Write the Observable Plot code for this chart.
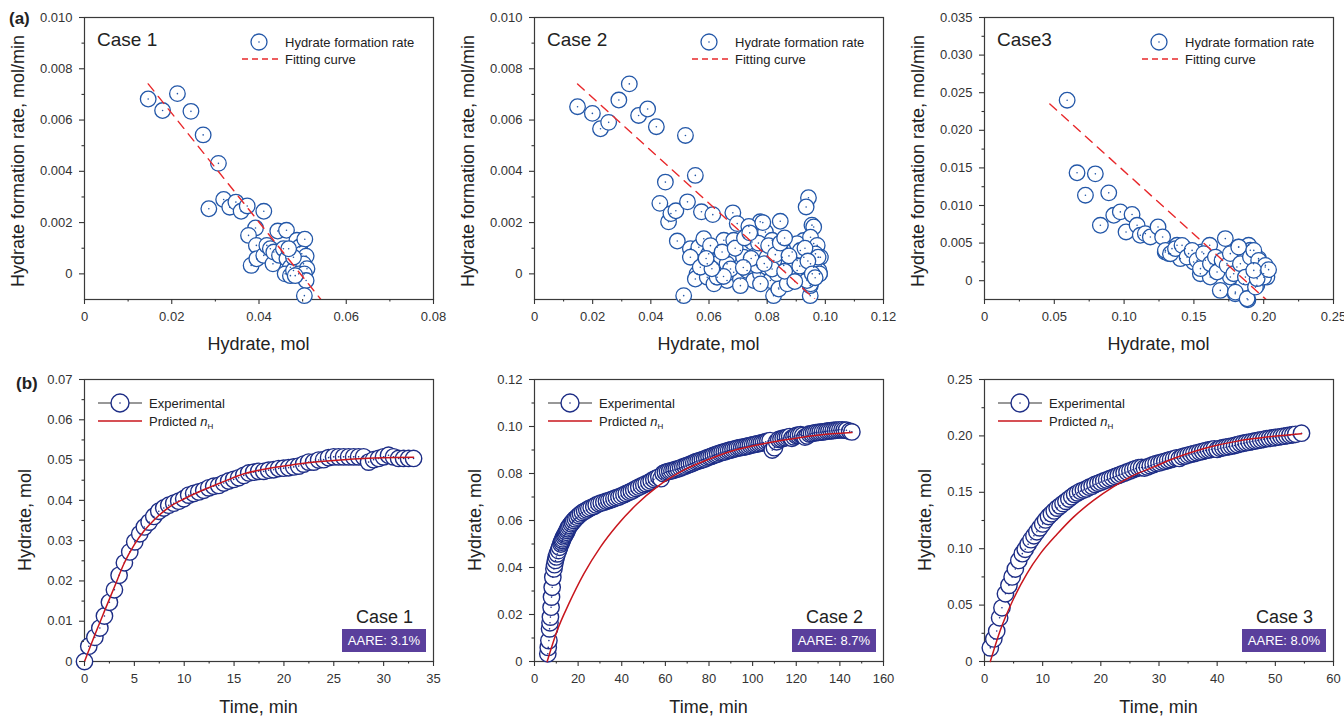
<!DOCTYPE html>
<html><head><meta charset="utf-8">
<script src="https://cdn.jsdelivr.net/npm/d3@7"></script>
<script src="https://cdn.jsdelivr.net/npm/@observablehq/plot@0.6"></script>
<style>
body{margin:0;background:#fff;}
#root{position:relative;width:1344px;height:716px;overflow:hidden;background:#fff;}
</style></head><body><div id="root"></div>
<script>
// ---------- DATA ----------
// (a) rate vs hydrate: [hydrate mol, rate mol/min]
const case1Rate = [[0.0146,0.00682],[0.0179,0.00637],[0.0213,0.00703],[0.0244,0.00634],[0.0272,0.00542],[0.0307,0.00431],[0.0285,0.00254],[0.0319,0.00290],[0.0333,0.00260],[0.0347,0.00280],[0.0359,0.00244],[0.0373,0.00265],[0.0411,0.00244],[0.0392,0.00179],[0.0376,0.00150],[0.0394,0.00111],[0.0382,0.00033],[0.0395,0.00059],[0.0411,0.00072],[0.0418,0.00111],[0.0426,0.00098],[0.0432,0.00039],[0.0443,0.00167],[0.0463,0.00170],[0.0434,0.00085],[0.0447,0.00072],[0.0456,0.00098],[0.0464,0.00059],[0.0472,0.00026],[0.0460,0.00000],[0.0472,-0.00007],[0.0479,0.00013],[0.0487,0.00131],[0.0493,0.00105],[0.0505,0.00135],[0.0498,0.00078],[0.0508,0.00069],[0.0502,0.00039],[0.0510,0.00020],[0.0491,0.00000],[0.0504,0.00000],[0.0508,-0.00026],[0.0504,-0.00085],[0.0479,0.00065],[0.0468,0.00098],[0.0483,-0.00007]];
const case1FitX = [0.0146,0.0542];
const case1FitY = [0.00741,-0.0010];

const case2Rate = [[0.0148,0.00652],[0.0199,0.00626],[0.0227,0.00566],[0.0255,0.00591],[0.0290,0.00678],[0.0326,0.00741],[0.0358,0.00618],[0.0389,0.00643],[0.0419,0.00574],[0.0519,0.00540],[0.0450,0.00358],[0.0553,0.00384],[0.0431,0.00275],[0.0461,0.00203],[0.0469,0.00235],[0.0486,0.00246],[0.0526,0.00281],[0.0574,0.00242],[0.0613,0.00231],[0.0491,0.00128],[0.0513,-0.00085],[0.0559,0.0],[0.0553,-0.0002],[0.0682,0.00238],[0.0776,0.00203],[0.0845,0.00205],[0.0942,0.00297],[0.0934,0.00261],[0.0954,0.00190],[0.0960,0.00183],[0.0822,-0.00085],[0.0839,-0.00055],[0.0948,-0.00085],[0.0948,-0.00046],[0.0977,0.00065],[0.0980,0.0],[0.0960,0.00118],[0.0925,0.00130],
[0.0697,0.00196],[0.0737,0.00185],[0.0536,0.00098],[0.0565,0.00104],[0.0582,0.00137],[0.0599,0.00078],[0.0628,0.00104],[0.0651,0.00131],[0.0668,0.00065],[0.0685,0.00131],[0.0708,0.00091],[0.0731,0.00104],[0.0748,0.00124],[0.0760,0.00072],[0.0777,0.00091],[0.0794,0.00163],[0.0817,0.00131],[0.0834,0.00091],[0.0852,0.00065],[0.0869,0.00104],[0.0886,0.00085],[0.0903,0.00118],[0.0926,0.00065],[0.0949,0.00143],[0.0972,0.00111],[0.0983,0.00065],[0.0978,0.00013],
[0.0594,-0.00013],[0.0639,0.00013],[0.0662,-0.00026],[0.0685,0.00006],[0.0708,-0.0002],[0.0731,0.00013],[0.0754,-0.00026],[0.0777,0.0],[0.0800,0.00026],[0.0811,-0.00026],[0.0834,0.0],[0.0857,0.00033],[0.0880,-0.00013],[0.0903,0.00013],[0.0926,0.0],[0.0949,-0.00039],[0.0840,-0.00059],[0.0628,0.00039],[0.0594,0.00039],[0.0662,0.00039],[0.0731,0.00046],[0.0765,0.00033],[0.0823,0.00052],[0.0903,0.00052],[0.0949,0.00039],[0.0617,-0.00039],[0.0708,-0.00046],[0.0777,-0.00039],[0.0869,-0.00039],[0.0937,-0.00026],[0.0536,0.00065],[0.0570,0.00026],[0.0628,-0.00013],[0.0674,0.00019],[0.0719,0.00065],[0.0800,0.00065],[0.0817,0.00019],[0.0886,0.00019],[0.0960,0.00026],[0.0966,0.00078],[0.0914,0.00091],[0.0980,0.00000],[0.0975,0.00065],
[0.0605,0.00110],[0.0645,0.00085],[0.0690,0.00100],[0.0722,0.00140],[0.0745,0.00060],[0.0770,0.00120],[0.0790,0.00040],[0.0805,0.00110],[0.0828,0.00075],[0.0845,0.00120],[0.0860,0.00010],[0.0875,0.00070],[0.0895,-0.00030],[0.0912,0.00030],[0.0930,0.00100],[0.0940,0.00050],[0.0955,0.00000],[0.0965,-0.00015],[0.0718,0.00025],[0.0650,-0.00010],[0.0610,0.00020],[0.0740,0.00160],[0.0785,0.00200],[0.0860,0.00140],[0.0590,0.00060]];
const case2FitX = [0.0148,0.0965];
const case2FitY = [0.00741,-0.0010];

const case3Rate = [[0.0592,0.0240],[0.0663,0.01435],[0.0794,0.01421],[0.0723,0.01137],[0.0890,0.01168],[0.0830,0.00737],[0.0926,0.0087],[0.0973,0.00915],[0.1014,0.00648],[0.1057,0.0088],[0.1093,0.00737],[0.1116,0.00604],[0.1152,0.00626],[0.1188,0.00582],[0.1243,0.00715],[0.1276,0.00582],[0.1295,0.00382],[0.1319,0.0036],[0.1343,0.00426],[0.1379,0.00471],[0.1403,0.00293],[0.1438,0.00426],[0.1462,0.0036],[0.1498,0.00249],[0.1546,0.00093],[0.1558,0.00382],[0.1582,0.00271],[0.1613,0.00471],[0.1617,0.00049],[0.1653,0.00227],[0.1689,-0.00129],[0.1725,0.0056],[0.1737,0.00227],[0.1761,0.00049],[0.1796,-0.00173],[0.1808,0.00182],[0.1820,0.00449],[0.1856,-0.0004],[0.1887,-0.00253],[0.1892,0.00471],[0.1904,0.00404],[0.1927,0.00227],[0.1951,-0.00062],[0.1963,0.00293],[0.1975,0.00138],[0.1999,0.00093],[0.2023,0.00049],[0.2011,0.00182],
[0.1296,0.00403],[0.1332,0.00359],[0.1368,0.00426],[0.1415,0.0047],[0.1451,0.00314],[0.1487,0.00403],[0.1523,0.0027],[0.1547,0.0016],[0.1570,0.0036],[0.1618,0.00226],[0.1654,0.00314],[0.1666,0.00115],[0.1702,0.0027],[0.1738,0.00204],[0.1761,0.0036],[0.1785,0.00093],[0.1797,-0.00152],[0.1821,0.00447],[0.1833,0.00226],[0.1869,0.00048],[0.1881,-0.0024],[0.1905,0.00314],[0.1929,0.00403],[0.1941,-0.00085],[0.1964,0.0027],[0.1976,0.00115],[0.2000,0.00048],[0.2012,0.00204],[0.1953,0.00027],[0.1929,0.00137],[0.2035,0.00147]];
const case3FitX = [0.0468,0.2023];
const case3FitY = [0.0235,-0.0026];

// (b) hydrate vs time: [time min, hydrate mol]
const case1Exp = [[0,0],[0.43,0.0038],[1.04,0.0060],[1.54,0.0083],[2.0,0.0113],[2.5,0.0147],[3.0,0.0178],[3.47,0.0214],[4.0,0.0245],[4.54,0.0272],[5.04,0.0297],[5.54,0.0317],[6.0,0.0334],[6.48,0.0346],[6.95,0.0360],[7.45,0.0373],[7.95,0.0381],[8.45,0.0388],[8.95,0.0393],[9.45,0.0398],[9.95,0.0404],[10.45,0.0413],[10.95,0.0417],[11.46,0.0421],[11.96,0.0425],[12.46,0.0431],[12.96,0.0435],[13.46,0.0437],[13.96,0.0443],[14.46,0.0448],[14.96,0.0452],[15.46,0.0456],[15.97,0.0462],[16.47,0.0468],[16.97,0.0470],[17.47,0.0472],[17.97,0.0472],[18.47,0.0475],[18.97,0.0476],[19.47,0.0479],[19.97,0.0480],[20.47,0.0481],[20.98,0.0483],[21.48,0.0485],[21.98,0.0490],[22.48,0.0495],[22.98,0.0495],[23.48,0.0500],[23.98,0.0501],[24.48,0.0506],[24.98,0.0508],[25.48,0.0508],[25.98,0.0508],[26.49,0.0508],[26.99,0.0508],[27.49,0.0508],[27.99,0.0508],[28.49,0.0495],[28.99,0.0501],[29.49,0.0504],[29.99,0.0508],[30.49,0.0512],[30.99,0.0508],[31.5,0.0504],[32.0,0.0504],[32.5,0.0504],[33.0,0.0504]];
const case1Pred = [[0,0],[1,0.0064],[2,0.0125],[3,0.0185],[4,0.0245],[5,0.0290],[6,0.0325],[7,0.0352],[8,0.0374],[9,0.0391],[10,0.0404],[12,0.0427],[14,0.0447],[16,0.0466],[18,0.0477],[20,0.0485],[22,0.0492],[24,0.0497],[26,0.0501],[28,0.0504],[30,0.0506],[33,0.0507]];

const case2Exp = [[6.1,0.0033],[6.3,0.0060],[6.6,0.0089],[6.9,0.0139],[7.1,0.0165],[7.3,0.0189],[7.6,0.0231],[7.8,0.0274],[8.1,0.0316],[8.4,0.0359],[8.9,0.0394],[9.2,0.0412],[9.6,0.0430],[10.0,0.0445],[10.4,0.0458],[11.0,0.0472],[11.5,0.0486],[12.1,0.0500],[12.4,0.0508],[12.7,0.0515],[13.0,0.0522],[13.4,0.0530],[13.8,0.0537],[14.2,0.0543],[14.6,0.0550],[15.0,0.0558],[15.3,0.0565],[15.7,0.0572],[16.2,0.0579],[16.8,0.0586],[17.4,0.0593],[18.0,0.0600],[18.7,0.0607],[19.5,0.0614],[20.3,0.0621],[21.1,0.0628],[22.0,0.0634],[23.0,0.0640],[24.0,0.0645],[24.9,0.0650],[26.0,0.0655],[27.2,0.0660],[28.3,0.0666],[29.5,0.0671],[30.6,0.0675],[31.8,0.0678],[33.0,0.0682],[34.1,0.0685],[35.2,0.0689],[36.4,0.0693],[37.5,0.0697],[38.7,0.0700],[39.8,0.0705],[41.0,0.0710],[42.1,0.0715],[43.3,0.0720],[44.4,0.0725],[45.5,0.0730],[46.6,0.0736],[47.8,0.0742],[49.0,0.0747],[50.1,0.0752],[51.2,0.0757],[52.4,0.0762],[53.5,0.0768],[54.7,0.0775],[55.8,0.0780],[57.0,0.0785],[58.0,0.0778],[59.0,0.0800],[60,0.0805],[61,0.0808],[62,0.0810],[63,0.0812],[64,0.0815],[65,0.0818],[66,0.0820],[67,0.0824],[68,0.0828],[69,0.0831],[70,0.0835],[71,0.0838],[72,0.0842],[73,0.0846],[74,0.0850],[75,0.0853],[76,0.0856],[77,0.0859],[78,0.0862],[79,0.0866],[80,0.0870],[81,0.0873],[82,0.0877],[83,0.0880],[84,0.0883],[85,0.0887],[86,0.0890],[87,0.0892],[88,0.0895],[89,0.0898],[90,0.0900],[91,0.0903],[92,0.0905],[93,0.0908],[94,0.0910],[95,0.0911],[96,0.0913],[97,0.0915],[98,0.0917],[99,0.0920],[100,0.0922],[101,0.0924],[102,0.0926],[103,0.0928],[104,0.0930],[105,0.0932],[106,0.0935],[107,0.0938],[108,0.0940],[109,0.0900],[110,0.0910],[111,0.0935],[112,0.0945],[113,0.0947],[114,0.0950],[115,0.0952],[116,0.0955],[117,0.0957],[118,0.0950],[119,0.0956],[120,0.0962],[121,0.0963],[122,0.0965],[123,0.0962],[124,0.0955],[125,0.0960],[126,0.0968],[127,0.0970],[128,0.0972],[129,0.0974],[130,0.0975],[131,0.0976],[132,0.0977],[133,0.0978],[134,0.0980],[135,0.0981],[136,0.0982],[137,0.0983],[138,0.0984],[139,0.0985],[140,0.0986],[141,0.0986],[142,0.0985],[143,0.0984],[144.5,0.0980],[145.5,0.0977]];
const case2Pred = [[5.8,0],[10.4,0.0132],[15.7,0.0245],[22.6,0.0373],[30.2,0.0487],[37.9,0.0580],[47,0.0670],[56.2,0.0743],[68.4,0.0814],[80.6,0.0863],[92.8,0.0902],[105,0.0927],[117,0.0946],[129.5,0.0963],[145.5,0.0974]];

const case3Exp = [[1.0,0.0121],[1.6,0.0200],[2.1,0.0270],[2.6,0.0388],[3.0,0.0476],[3.6,0.0600],[4.2,0.0675],[4.75,0.0750],[5.3,0.0820],[5.9,0.0896],[6.5,0.0956],[7.0,0.0995],[7.5,0.1040],[8.0,0.1080],[8.5,0.1115],[9.0,0.1150],[9.5,0.1185],[10.0,0.1220],[10.5,0.1255],[11.0,0.1285],[11.5,0.1310],[12.0,0.1335],[12.5,0.1360],[13.0,0.1380],[13.5,0.1400],[14.0,0.1420],[14.5,0.1440],[15.0,0.1460],[15.5,0.1480],[16.0,0.1495],[16.5,0.1510],[17.0,0.1520],[17.5,0.1530],[18.0,0.1545],[18.5,0.1555],[19.0,0.1570],[19.5,0.1580],[20.0,0.1590],[20.5,0.1600],[21.0,0.1610],[21.5,0.1620],[22.0,0.1630],[22.5,0.1640],[23.0,0.1650],[23.5,0.1660],[24.0,0.1670],[24.5,0.1680],[25.0,0.1690],[25.5,0.1700],[26.0,0.1710],[26.5,0.1718],[27.0,0.1720],[27.5,0.1715],[28.0,0.1725],[28.5,0.1735],[29.0,0.1745],[29.5,0.1755],[30.0,0.1760],[30.5,0.1768],[31.0,0.1775],[31.5,0.1782],[32.0,0.1790],[32.5,0.1797],[33.0,0.1805],[33.5,0.1800],[34.0,0.1815],[34.5,0.1822],[35.0,0.1830],[35.5,0.1837],[36.0,0.1843],[36.5,0.1850],[37.0,0.1857],[37.5,0.1863],[38.0,0.1870],[38.5,0.1875],[39.0,0.1880],[39.5,0.1885],[40.0,0.1880],[40.5,0.1890],[41.0,0.1895],[41.5,0.1900],[42.0,0.1905],[42.5,0.1910],[43.0,0.1915],[43.5,0.1922],[44.0,0.1930],[44.5,0.1935],[45.0,0.1940],[45.5,0.1945],[46.0,0.1950],[46.5,0.1955],[47.0,0.1960],[47.5,0.1965],[48.0,0.1970],[48.5,0.1975],[49.0,0.1978],[49.5,0.1982],[50.0,0.1986],[50.5,0.1990],[51.0,0.1994],[51.5,0.1998],[52.0,0.2002],[52.5,0.2006],[53.0,0.2010],[53.5,0.2014],[54.5,0.2024]];
const case3Pred = [[1.0,0],[2.7,0.0275],[5,0.0556],[7.3,0.0780],[9.6,0.0956],[12.5,0.1130],[15.3,0.1280],[18.8,0.1430],[22.2,0.1550],[25.6,0.1650],[29.1,0.1725],[32.5,0.1800],[35.9,0.1860],[39.4,0.1910],[42.8,0.1947],[46.3,0.1976],[49.7,0.1997],[54.5,0.2020]];

// Text content
const caseNamesTop = ["Case 1","Case 2","Case3"];
const caseNamesBottom = ["Case 1","Case 2","Case 3"];
const aareLabels = ["AARE: 3.1%","AARE: 8.7%","AARE: 8.0%"];

// Tick values
const xTicksA = [[0,0.02,0.04,0.06,0.08],[0,0.02,0.04,0.06,0.08,0.10,0.12],[0,0.05,0.10,0.15,0.20,0.25]];
const xMinorA = [[0.01,0.03,0.05,0.07],[0.01,0.03,0.05,0.07,0.09,0.11],[0.025,0.075,0.125,0.175,0.225]];
const yTicksA = [[0,0.002,0.004,0.006,0.008,0.010],[0,0.002,0.004,0.006,0.008,0.010],[0,0.005,0.010,0.015,0.020,0.025,0.030,0.035]];
const yMinorA = [[0.001,0.003,0.005,0.007,0.009],[0.001,0.003,0.005,0.007,0.009],[0.0025,0.0075,0.0125,0.0175,0.0225,0.0275,0.0325]];
const xTicksB = [[0,5,10,15,20,25,30,35],[0,20,40,60,80,100,120,140,160],[0,10,20,30,40,50,60]];
const xMinorB = [[2.5,7.5,12.5,17.5,22.5,27.5,32.5],[10,30,50,70,90,110,130,150],[5,15,25,35,45,55]];
const yTicksB = [[0,0.01,0.02,0.03,0.04,0.05,0.06,0.07],[0,0.02,0.04,0.06,0.08,0.10,0.12],[0,0.05,0.10,0.15,0.20,0.25]];
const yMinorB = [[0.005,0.015,0.025,0.035,0.045,0.055,0.065],[0.01,0.03,0.05,0.07,0.09,0.11],[0.025,0.075,0.125,0.175,0.225]];

// ---------- STYLE ----------
const FONT = "'Liberation Sans', Arial, Helvetica, sans-serif";
const BLUE = "#2357a8", NAVY = "#1d2d86", RED = "#e8282b", DRED = "#c8161d", PURPLE = "#5a3f9c", INK = "#222";
const root = document.getElementById("root");
const fmt = dec => d => d === 0 ? "0" : d.toFixed(dec);

function panel({left, top, width, height, mt, mb, mr, xDom, yDom, xT, xM, yT, yM, xDec, yDec, marks}) {
  const svg = Plot.plot({
    width, height, marginLeft: 84, marginRight: mr, marginTop: mt, marginBottom: mb,
    style: {fontFamily: FONT, fontSize: "13px", color: "#333", overflow: "visible", background: "none"},
    x: {domain: xDom}, y: {domain: yDom},
    marks: [
      Plot.frame({stroke: "#3a3a3a", strokeWidth: 1.2}),
      ...marks,
      Plot.axisX(xT, {tickSize: 5, tickPadding: 7, tickFormat: fmt(xDec), label: null, strokeWidth: 1.1}),
      Plot.axisX(xM, {tickSize: 2.5, fill: "none", label: null, strokeWidth: 1.1}),
      Plot.axisY(yT, {tickSize: 5, tickPadding: 7, tickFormat: fmt(yDec), label: null, strokeWidth: 1.1}),
      Plot.axisY(yM, {tickSize: 2.5, fill: "none", label: null, strokeWidth: 1.1})
    ]
  });
  svg.style.position = "absolute";
  svg.style.left = left + "px";
  svg.style.top = top + "px";
  root.appendChild(svg);
  return d3.select(svg);
}

const pairX = d => d[0], pairY = d => d[1];
const zip = (xs, ys) => xs.map((x, i) => [x, ys[i]]);

const topData = [
  {rate: case1Rate, fit: zip(case1FitX, case1FitY), xDom: [0, 0.08], yDom: [-0.001, 0.010], xDec: 2, yDec: 3},
  {rate: case2Rate, fit: zip(case2FitX, case2FitY), xDom: [0, 0.12], yDom: [-0.001, 0.010], xDec: 2, yDec: 3},
  {rate: case3Rate, fit: zip(case3FitX, case3FitY), xDom: [0, 0.25], yDom: [-0.0025, 0.035], xDec: 2, yDec: 3}
];
const botData = [
  {exp: case1Exp, pred: case1Pred, xDom: [0, 35], yDom: [0, 0.07], yDec: 2},
  {exp: case2Exp, pred: case2Pred, xDom: [0, 160], yDom: [0, 0.12], yDec: 2},
  {exp: case3Exp, pred: case3Pred, xDom: [0, 60], yDom: [0, 0.25], yDec: 2}
];

function addText(g, x, y, txt, size, opts = {}) {
  const t = g.append("text").attr("x", x).attr("y", y).attr("font-size", size)
    .attr("fill", opts.fill || INK).attr("font-family", FONT)
    .attr("text-anchor", opts.anchor || "start");
  if (opts.dy) t.attr("dy", opts.dy);
  if (opts.weight) t.attr("font-weight", opts.weight);
  if (opts.rotate) t.attr("transform", `rotate(-90 ${x} ${y})`);
  t.text(txt);
  return t;
}

topData.forEach((p, i) => {
  const g = panel({
    left: i * 450, top: 0, width: i === 2 ? 444 : 450, height: 358, mt: 17, mb: 59, mr: i === 2 ? 11 : 17,
    xDom: p.xDom, yDom: p.yDom, xT: xTicksA[i], xM: xMinorA[i], yT: yTicksA[i], yM: yMinorA[i], xDec: p.xDec, yDec: p.yDec,
    marks: [
      Plot.dot(p.rate, {x: pairX, y: pairY, r: 7.8, stroke: BLUE, fill: "white", strokeWidth: 1.3}),
      Plot.dot(p.rate, {x: pairX, y: pairY, r: 0.8, fill: BLUE, stroke: null}),
      Plot.line(p.fit, {x: pairX, y: pairY, stroke: RED, strokeWidth: 1.4, strokeDasharray: "9,7", clip: true})
    ]
  });
  const a = g.append("g");
  addText(a, 97, 46, caseNamesTop[i], 19);
  a.append("circle").attr("cx", 259).attr("cy", 42).attr("r", 8).attr("fill", "white").attr("stroke", BLUE).attr("stroke-width", 1.3);
  a.append("circle").attr("cx", 259).attr("cy", 42).attr("r", 0.8).attr("fill", BLUE);
  addText(a, 285, 42, "Hydrate formation rate", 13, {dy: "0.35em"});
  a.append("line").attr("x1", 242).attr("x2", 278).attr("y1", 59).attr("y2", 59).attr("stroke", RED).attr("stroke-width", 1.4).attr("stroke-dasharray", "6,4");
  addText(a, 285, 59, "Fitting curve", 13, {dy: "0.35em"});
  addText(a, 258.5, 350, "Hydrate, mol", 18, {anchor: "middle"});
  addText(a, 24, 161, "Hydrate formation rate, mol/min", 18, {anchor: "middle", rotate: true});
  if (i === 0) addText(a, 9, 24, "(a)", 17, {weight: "bold"});
});

botData.forEach((p, i) => {
  const g = panel({
    left: i * 450, top: 360, width: i === 2 ? 444 : 450, height: 356, mt: 19, mb: 55, mr: i === 2 ? 11 : 17,
    xDom: p.xDom, yDom: p.yDom, xT: xTicksB[i], xM: xMinorB[i], yT: yTicksB[i], yM: yMinorB[i], xDec: 0, yDec: p.yDec,
    marks: [
      Plot.dot(p.exp, {x: pairX, y: pairY, r: 8.2, stroke: NAVY, fill: "white", strokeWidth: 1.4}),
      Plot.dot(p.exp, {x: pairX, y: pairY, r: 0.8, fill: NAVY, stroke: null}),
      Plot.line(p.pred, {x: pairX, y: pairY, stroke: DRED, strokeWidth: 1.5, curve: "monotone-x"})
    ]
  });
  const a = g.append("g");
  a.append("line").attr("x1", 98).attr("x2", 142).attr("y1", 43).attr("y2", 43).attr("stroke", "#333").attr("stroke-width", 1.2);
  a.append("circle").attr("cx", 120).attr("cy", 43).attr("r", 9).attr("fill", "white").attr("stroke", NAVY).attr("stroke-width", 1.4);
  a.append("circle").attr("cx", 120).attr("cy", 43).attr("r", 0.8).attr("fill", NAVY);
  addText(a, 149, 43, "Experimental", 13, {dy: "0.35em"});
  a.append("line").attr("x1", 98).attr("x2", 142).attr("y1", 61).attr("y2", 61).attr("stroke", DRED).attr("stroke-width", 1.5);
  const t = addText(a, 149, 61, "Prdicted ", 13, {dy: "0.35em"});
  t.append("tspan").attr("font-style", "italic").text("n");
  t.append("tspan").attr("font-size", 8).attr("dy", 3).text("H");
  addText(a, 413, 263, caseNamesBottom[i], 18, {anchor: "end"});
  a.append("rect").attr("x", 342).attr("y", 269).attr("width", 84).attr("height", 23).attr("fill", PURPLE);
  addText(a, 384, 280.5, aareLabels[i], 13, {anchor: "middle", dy: "0.35em", fill: "#fff"});
  addText(a, 258.5, 353, "Time, min", 18, {anchor: "middle"});
  addText(a, 31, 160, "Hydrate, mol", 18, {anchor: "middle", rotate: true});
  if (i === 0) addText(a, 16, 29, "(b)", 17, {weight: "bold"});
});
</script></body></html>
